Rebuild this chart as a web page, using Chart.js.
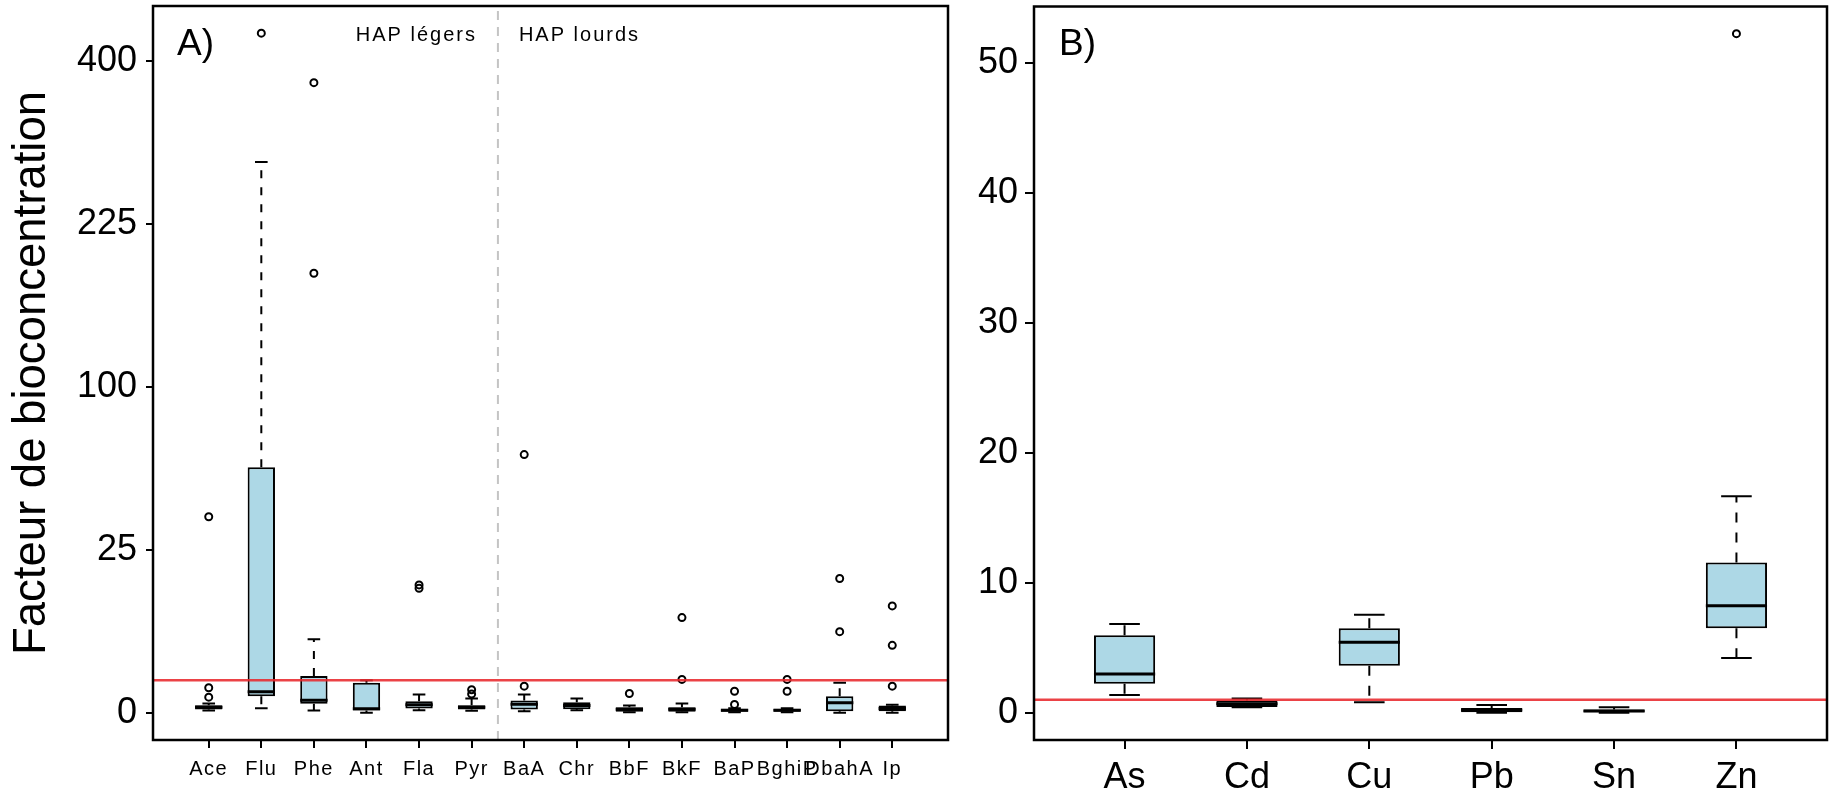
<!DOCTYPE html>
<html><head><meta charset="utf-8">
<script src="https://cdn.jsdelivr.net/npm/chart.js@4/dist/chart.umd.min.js"></script>
<style>
html,body{margin:0;padding:0;background:#fff;width:1835px;height:800px;overflow:hidden}
#wa{position:absolute;left:0;top:0;width:960px;height:800px}
#wb{position:absolute;left:960px;top:0;width:875px;height:800px}
</style></head><body>
<div id="wa"><canvas id="ca"></canvas></div>
<div id="wb"><canvas id="cb"></canvas></div>
<script>
// ---------- Panel A : HAP (square-root axis) ----------
const pahNames   = ['Ace','Flu','Phe','Ant','Fla','Pyr','BaA','Chr','BbF','BkF','BaP','BghiP','DbahA','Ip'];
const pahLower   = [0.005, 0.02, 0.005, 0.0,   0.006, 0.004, 0.0025, 0.0064, 0.0003, 0.0003, 0.0003, 0.0003, 0.0,    0.0];
const pahQ1      = [0.01,  0.26, 0.077, 0.005, 0.018, 0.01,  0.01,   0.012,  0.001,  0.001,  0.001,  0.001,  0.0025, 0.0025];
const pahMedian  = [0.03,  0.42, 0.15,  0.015, 0.06,  0.03,  0.07,   0.05,   0.012,  0.012,  0.006,  0.006,  0.095,  0.018];
const pahQ3      = [0.055, 56.8, 1.27,  0.85,  0.127, 0.055, 0.143,  0.106,  0.03,   0.03,   0.015,  0.015,  0.26,   0.05];
const pahUpper   = [0.08, 285.7, 5.09,  1.0,   0.32,  0.19,  0.317,  0.19,   0.05,   0.082,  0.02,   0.02,   0.85,   0.06];
const pahOutliers = [[0.23,0.59,36.2],[435],[182,374],[],[14.6,15.4],[0.33,0.5],[0.67,62.8],[],[0.35],[1.05,8.54],[0.065,0.44],[0.44,1.05],[6.2,17.0],[0.67,4.29,10.76]];
const pahTicks   = [0, 25, 100, 225, 400];
const pahGroupSplit = 6.5;   // between Pyr and BaA
const pahGroupLabels = ['HAP légers','HAP lourds'];

// ---------- Panel B : metals (linear axis) ----------
const metNames   = ['As','Cd','Cu','Pb','Sn','Zn'];
const metLower   = [1.38, 0.42, 0.82, 0.0,  0.0,  4.22];
const metQ1      = [2.23, 0.44, 3.63, 0.05, 0.05, 6.5];
const metMedian  = [2.99, 0.69, 5.42, 0.21, 0.15, 8.24];
const metQ3      = [5.96, 0.94, 6.5,  0.38, 0.26, 11.57];
const metUpper   = [6.83, 1.1,  7.55, 0.6,  0.42, 16.65];
const metOutliers = [[],[],[],[],[],[52.24]];
const metTicks   = [0, 10, 20, 30, 40, 50];

const threshold = 1;   // red reference line
const yTitle = 'Facteur de bioconcentration';

Chart.defaults.font.family = '"Liberation Sans", Arial, Helvetica, sans-serif';
Chart.defaults.color = '#000';

function zeroPad(s) { s.paddingTop = 0; s.paddingBottom = 0; s.paddingLeft = 0; s.paddingRight = 0; }

function buildBoxChart(id, d) {
  const T = d.T;
  const n = d.names.length;
  const xmin = 0.5 - 0.04 * n, xmax = n + 0.5 + 0.04 * n;
  const allV = [].concat(d.lower, d.upper, ...d.outliers).map(T);
  const vmin = Math.min(...allV), vmax = Math.max(...allV);
  const ext = 0.04 * (vmax - vmin);
  const ymin = vmin - ext, ymax = vmax + ext;

  const boxes = d.names.map((_, i) => ({x: i + 1, y: [T(d.q1[i]), T(d.q3[i])]}));
  const med = [], whisk = [], stap = [], outl = [];
  const hw = d.boxW / 2, hs = d.stapW / 2;
  d.names.forEach((_, i) => {
    const x = i + 1;
    med.push({x: x - hw, y: T(d.median[i])}, {x: x + hw, y: T(d.median[i])}, {x: x, y: null});
    whisk.push({x: x, y: T(d.q3[i])}, {x: x, y: T(d.upper[i])}, {x: x, y: null});
    whisk.push({x: x, y: T(d.q1[i])}, {x: x, y: T(d.lower[i])}, {x: x, y: null});
    stap.push({x: x - hs, y: T(d.upper[i])}, {x: x + hs, y: T(d.upper[i])}, {x: x, y: null});
    stap.push({x: x - hs, y: T(d.lower[i])}, {x: x + hs, y: T(d.lower[i])}, {x: x, y: null});
    d.outliers[i].forEach(v => outl.push({x: x, y: T(v)}));
  });

  const lineDs = (data, extra) => Object.assign({type: 'line', data, pointRadius: 0, borderColor: '#000', borderWidth: 2, spanGaps: false, tension: 0}, extra);
  const datasets = [
    lineDs([{x: xmin, y: T(threshold)}, {x: xmax, y: T(threshold)}], {borderColor: 'rgba(232,40,44,0.88)', borderWidth: 2.5, order: 0}),
    {type: 'scatter', data: outl, pointRadius: d.ptR, pointBorderWidth: 2, borderColor: '#000', backgroundColor: 'rgba(0,0,0,0)', pointStyle: 'circle', order: 1},
    lineDs(med, {borderWidth: 3, order: 2}),
    {type: 'bar', data: boxes, backgroundColor: '#ADD8E6', borderColor: '#000', borderWidth: 2, borderSkipped: false, barPercentage: d.boxW, categoryPercentage: 1, order: 3},
    lineDs(stap, {borderWidth: 2, order: 4}),
    lineDs(whisk, {borderWidth: 2, borderDash: d.dash, order: 5}),
  ];
  if (d.split) {
    datasets.push(lineDs([{x: d.split, y: ymin}, {x: d.split, y: ymax}], {borderColor: '#c4c4c4', borderWidth: 2, borderDash: [9, 7], order: 0}));
  }

  const annot = {
    id: 'annot_' + id,
    beforeDraw(chart) {
      const xs = chart.scales.x;
      if (d.xLS && !xs._lsWrapped) {
        const orig = xs.drawLabels.bind(xs);
        xs.drawLabels = function (area) {
          const c = this.ctx; c.save(); c.letterSpacing = d.xLS; orig(area); c.restore();
        };
        xs._lsWrapped = true;
      }
    },
    afterDraw(chart) {
      const ctx = chart.ctx, a = chart.chartArea;
      ctx.save();
      ctx.strokeStyle = '#000'; ctx.lineWidth = 2.5;
      ctx.strokeRect(a.left, a.top, a.right - a.left, a.bottom - a.top);
      ctx.fillStyle = '#000';
      ctx.textBaseline = 'alphabetic';
      ctx.font = '37px "Liberation Sans", Arial, sans-serif';
      ctx.textAlign = 'left';
      ctx.fillText(d.panel, a.left + d.panelDx, 55);
      if (d.split) {
        const xs = chart.scales.x.getPixelForValue(d.split);
        ctx.font = '20px "Liberation Sans", Arial, sans-serif';
        ctx.letterSpacing = '2px';
        ctx.textAlign = 'right';
        ctx.fillText(d.groups[0], xs - 21, 41);
        ctx.textAlign = 'left';
        ctx.fillText(d.groups[1], xs + 21, 41);
      }
      ctx.restore();
    }
  };

  return new Chart(document.getElementById(id), {
    type: 'bar',
    data: {datasets},
    plugins: [annot],
    options: {
      responsive: true, maintainAspectRatio: false, animation: false, devicePixelRatio: 1,
      events: [],
      layout: {padding: d.pad},
      plugins: {legend: {display: false}, tooltip: {enabled: false}},
      scales: {
        x: {
          type: 'linear', min: xmin, max: xmax, offset: false,
          afterBuildTicks: s => { s.ticks = d.names.map((_, i) => ({value: i + 1})); },
          afterFit: s => { s.height = 60; zeroPad(s); },
          ticks: {callback: v => d.names[Math.round(v) - 1], autoSkip: false, maxRotation: 0, minRotation: 0,
                  font: {size: d.xFont}, color: '#000', padding: d.xPad},
          grid: {display: true, offset: false, drawOnChartArea: false, drawTicks: true, tickLength: d.xTick, color: '#000', lineWidth: 2},
          border: {display: false}
        },
        y: {
          type: 'linear', min: ymin, max: ymax,
          afterBuildTicks: s => { s.ticks = d.ticks.map(v => ({value: T(v)})); },
          afterFit: s => { s.width = d.yW; zeroPad(s); },
          ticks: {callback: v => String(Math.round(d.inv(v))), font: {size: 36}, color: '#000', padding: d.yPad},
          grid: {display: true, drawOnChartArea: false, drawTicks: true, tickLength: d.yTick, color: '#000', lineWidth: 2},
          border: {display: false},
          title: {display: !!d.title, text: d.title || '', font: {size: 45.5}, color: '#000', padding: {top: 5, bottom: 0}}
        }
      }
    }
  });
}

buildBoxChart('ca', {
  names: pahNames, lower: pahLower, q1: pahQ1, median: pahMedian, q3: pahQ3, upper: pahUpper, outliers: pahOutliers,
  ticks: pahTicks, T: v => Math.sqrt(v), inv: v => v * v,
  boxW: 0.52, stapW: 0.24, ptR: 3.5, dash: [8, 9],
  split: pahGroupSplit, groups: pahGroupLabels, panel: 'A)', panelDx: 24,
  pad: {left: 0, right: 12, top: 6, bottom: 0}, yW: 153, xFont: 20, xPad: 9, xTick: 8, yPad: 9, yTick: 7,
  xLS: '1.5px', title: yTitle
});
buildBoxChart('cb', {
  names: metNames, lower: metLower, q1: metQ1, median: metMedian, q3: metQ3, upper: metUpper, outliers: metOutliers,
  ticks: metTicks, T: v => v, inv: v => v,
  boxW: 0.5, stapW: 0.25, ptR: 3.5, dash: [10, 10],
  split: null, panel: 'B)', panelDx: 25,
  pad: {left: 0, right: 8, top: 6.5, bottom: 0}, yW: 74, xFont: 36, xPad: 7, xTick: 9, yPad: 7, yTick: 9,
  xLS: null, title: null
});
</script>
</body></html>
